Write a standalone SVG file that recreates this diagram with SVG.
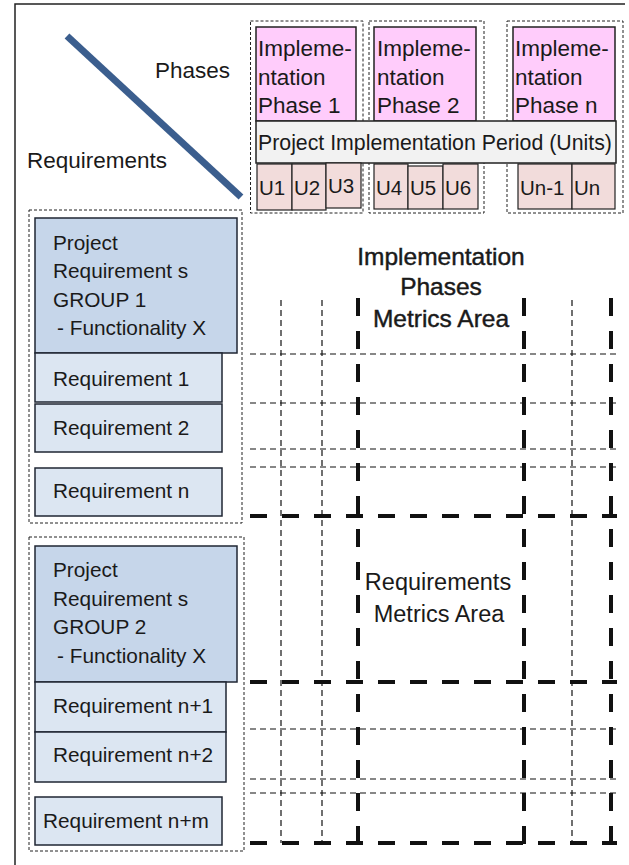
<svg xmlns="http://www.w3.org/2000/svg" width="629" height="865" viewBox="0 0 629 865">
  <style>
    text { font-family: "Liberation Sans", Arial, sans-serif; fill: #1a1a1a; }
    .lbl { font-size: 22.5px; }
    .area { font-size: 23.5px; text-anchor: middle; }
    .top { font-size: 24.5px; }
    .bold { stroke: #1a1a1a; stroke-width: 0.45; }
    .box { font-size: 20.8px; }
    .ph { font-size: 22.5px; }
    .band-t { font-size: 21.3px; }
    .unit { font-size: 20.5px; }
    .frame { fill: none; stroke: #222; stroke-width: 1.5; }
    .wrap { fill: none; stroke: #222; stroke-width: 1; stroke-dasharray: 3 2; }
    .pink { fill: #ffccfb; stroke: #222; stroke-width: 1.5; }
    .band { fill: #f2f2f2; stroke: #222; stroke-width: 1.5; }
    .cell { fill: #f2dcdb; stroke: #222; stroke-width: 1.2; }
    .hdr { fill: #c6d6ea; stroke: #1f2633; stroke-width: 1.5; }
    .req { fill: #dce6f2; stroke: #1f2633; stroke-width: 1.5; }
    .thin { fill: none; stroke: #111; stroke-width: 1.2; stroke-dasharray: 6 4; }
    .thick { fill: none; stroke: #111; stroke-width: 4; stroke-dasharray: 17 15; }
    .thickv { fill: none; stroke: #111; stroke-width: 4; stroke-dasharray: 18 15; }
  </style>

  <!-- outer border -->
  <path class="frame" d="M15 865 V4 H625"/>

  <!-- corner header: diagonal divider with axis labels -->
  <g id="corner">
    <line x1="67" y1="36" x2="241" y2="197" stroke="#3b5e8e" stroke-width="7"/>
    <text class="lbl" x="155" y="78">Phases</text>
    <text class="lbl" x="27" y="168">Requirements</text>
  </g>

  <!-- implementation phases -->
  <g id="phase1">
    <rect class="wrap" x="250.5" y="21" width="112.5" height="192"/>
    <rect class="pink" x="256" y="27" width="100" height="94"/>
    <text class="ph" x="258" y="56">Impleme-</text>
    <text class="ph" x="258" y="85">ntation</text>
    <text class="ph" x="258" y="113">Phase 1</text>
  </g>
  <g id="phase2">
    <rect class="wrap" x="369" y="21" width="115" height="192"/>
    <rect class="pink" x="374" y="27" width="102" height="94"/>
    <text class="ph" x="377" y="56">Impleme-</text>
    <text class="ph" x="377" y="85">ntation</text>
    <text class="ph" x="377" y="113">Phase 2</text>
  </g>
  <g id="phaseN">
    <rect class="wrap" x="507" y="21" width="116" height="192"/>
    <rect class="pink" x="513" y="27" width="102" height="94"/>
    <text class="ph" x="515" y="56">Impleme-</text>
    <text class="ph" x="515" y="85">ntation</text>
    <text class="ph" x="515" y="113">Phase n</text>
  </g>

  <!-- implementation period band -->
  <g id="period">
    <rect class="band" x="256" y="121" width="360" height="42"/>
    <text class="band-t" x="258" y="150">Project Implementation Period (Units)</text>
  </g>

  <!-- period units -->
  <g id="units">
    <rect class="cell" x="257" y="164" width="35" height="46"/>
    <text class="unit" x="259" y="195">U1</text>
    <rect class="cell" x="292" y="164" width="34" height="46"/>
    <text class="unit" x="294" y="195">U2</text>
    <rect class="cell" x="326" y="163" width="35" height="45" stroke-width="0.6"/>
    <text class="unit" x="328" y="193">U3</text>
    <rect class="cell" x="374" y="164" width="34" height="45"/>
    <text class="unit" x="376" y="195">U4</text>
    <rect class="cell" x="408" y="166" width="35" height="43"/>
    <text class="unit" x="410" y="195">U5</text>
    <rect class="cell" x="443" y="164" width="35" height="45"/>
    <text class="unit" x="445" y="195">U6</text>
    <rect class="cell" x="518" y="164" width="54" height="45"/>
    <text class="unit" x="520" y="195">Un-1</text>
    <rect class="cell" x="572" y="164" width="43" height="45"/>
    <text class="unit" x="574" y="195">Un</text>
  </g>

  <!-- requirement group 1 -->
  <g id="group1">
    <rect class="wrap" x="29" y="210" width="213" height="313"/>
    <rect class="hdr" x="35" y="218" width="202" height="135"/>
    <text class="box" x="53" y="250">Project</text>
    <text class="box" x="53" y="278">Requirement s</text>
    <text class="box" x="53" y="307">GROUP 1</text>
    <text class="box" x="57" y="335">- Functionality  X</text>
  </g>
  <g id="req1">
    <rect class="req" x="35" y="353" width="187" height="49"/>
    <text class="box" x="53" y="386">Requirement 1</text>
  </g>
  <g id="req2">
    <rect class="req" x="35" y="404" width="187" height="48"/>
    <text class="box" x="53" y="435">Requirement 2</text>
  </g>
  <g id="reqN">
    <rect class="req" x="35" y="468" width="187" height="48"/>
    <text class="box" x="53" y="498">Requirement n</text>
  </g>

  <!-- requirement group 2 -->
  <g id="group2">
    <rect class="wrap" x="29" y="537" width="215" height="314"/>
    <rect class="hdr" x="35" y="546" width="202" height="136"/>
    <text class="box" x="53" y="577">Project</text>
    <text class="box" x="53" y="606">Requirement s</text>
    <text class="box" x="53" y="634">GROUP 2</text>
    <text class="box" x="57" y="663">- Functionality  X</text>
  </g>
  <g id="reqN1">
    <rect class="req" x="35" y="682" width="191" height="50"/>
    <text class="box" x="53" y="713">Requirement n+1</text>
  </g>
  <g id="reqN2">
    <rect class="req" x="35" y="732" width="191" height="50"/>
    <text class="box" x="53" y="762">Requirement n+2</text>
  </g>
  <g id="reqNM">
    <rect class="req" x="35" y="797" width="187" height="48"/>
    <text class="box" x="43" y="828">Requirement n+m</text>
  </g>

  <!-- metrics grid -->
  <g id="connectors">
    <!-- unit columns -->
    <path class="thin" d="M281 300 V843 M322 300 V843 M572 300 V843"/>
    <!-- phase boundaries -->
    <path class="thickv" d="M358 298 V845 M524 298 V845 M611 298 V845"/>
    <!-- requirement rows -->
    <path class="thin" d="M250 354 H618 M250 403 H618 M250 449 H618 M250 467 H618 M250 729 H618 M250 779 H618 M250 793 H618"/>
    <!-- group boundaries -->
    <path class="thick" d="M250 516 H617 M250 682 H617 M250 843 H617"/>
  </g>

  <!-- area labels -->
  <g id="phaseMetrics">
    <text class="area top bold" x="441" y="265">Implementation</text>
    <text class="area top bold" x="441" y="295">Phases</text>
    <text class="area top bold" x="441" y="327">Metrics Area</text>
  </g>
  <g id="reqMetrics">
    <text class="area" x="438" y="590">Requirements</text>
    <text class="area" x="439" y="622">Metrics Area</text>
  </g>
</svg>
